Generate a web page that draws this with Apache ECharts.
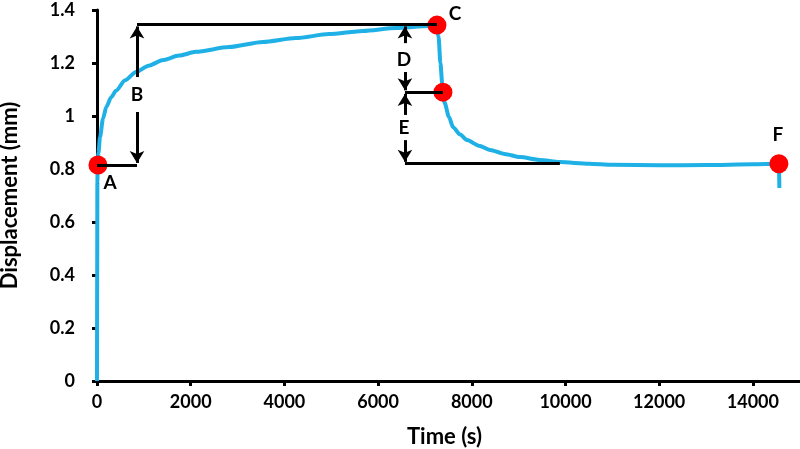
<!DOCTYPE html>
<html>
<head>
<meta charset="utf-8">
<script src="https://cdn.jsdelivr.net/npm/echarts@6/dist/echarts.min.js"></script>
<style>html,body{margin:0;padding:0;background:#fff}#c{width:800px;height:449px}</style>
</head>
<body>
<div id="c"></div>
<script>
// Displacement curve: [time (s), displacement (mm)]
var curveTime = [0, 4, 8, 15, 30, 64, 128, 200, 300, 405, 600, 832, 1100, 1409, 1750, 2113, 2817, 3540, 4247, 4951, 5677, 6381, 7085, 7256, 7290, 7330, 7370, 7384, 7420, 7512, 7600, 7750, 7900, 8150, 8390, 8700, 9030, 9450, 9880, 10500, 11000, 12000, 13000, 14000, 14555, 14565];
var curveDisp = [0, 0.4, 0.75, 0.82, 0.86, 0.92, 0.99, 1.035, 1.07, 1.095, 1.135, 1.166, 1.19, 1.211, 1.228, 1.242, 1.26, 1.279, 1.294, 1.309, 1.321, 1.332, 1.34, 1.343, 1.30, 1.2, 1.12, 1.09, 1.05, 0.996, 0.958, 0.93, 0.909, 0.888, 0.872, 0.857, 0.845, 0.834, 0.826, 0.82, 0.816, 0.814, 0.815, 0.818, 0.82, 0.728];

// Red marker points
var pointTime = [20, 7256, 7384, 14555];
var pointDisp = [0.815, 1.343, 1.09, 0.82];

// Letter labels
var labelText = ['A', 'B', 'C', 'D', 'E', 'F'];
var labelTime = [277, 854, 7640, 6552, 6552, 14533];
var labelDisp = [0.747, 1.08, 1.385, 1.211, 0.955, 0.928];

// Plain guide lines [x1, y1, x2, y2]
var guideLines = [
  [0, 0.815, 854, 0.815],
  [854, 1.345, 7256, 1.345],
  [6573, 1.09, 7384, 1.09],
  [6573, 0.82, 9880, 0.82]
];
// Arrow segments [xFrom, yFrom, xTipTo, yTipTo] (arrowhead at the second end)
var arrowLines = [
  [854, 1.147, 854, 1.338],
  [854, 1.015, 854, 0.823],
  [6573, 1.275, 6573, 1.338],
  [6573, 1.166, 6573, 1.097],
  [6573, 1.004, 6573, 1.083],
  [6573, 0.909, 6573, 0.827]
];

var xTicks = [0, 2000, 4000, 6000, 8000, 10000, 12000, 14000];
var yTicks = [0, 0.2, 0.4, 0.6, 0.8, 1, 1.2, 1.4];

var FONT = 'Lato';
var chart = echarts.init(document.getElementById('c'), null, {renderer: 'canvas'});

function zip(a, b) { return a.map(function (v, i) { return [v, b[i]]; }); }

var option = {
  animation: false,
  backgroundColor: '#fff',
  grid: {left: 97, top: 10, height: 371, width: 749.6, outerBoundsMode: 'none', containLabel: false},
  xAxis: {
    type: 'value', min: 0, max: 16000, interval: 2000,
    axisLine: {lineStyle: {color: '#000', width: 3}},
    axisTick: {show: true, length: 5, lineStyle: {color: '#000', width: 3}},
    splitLine: {show: false},
    axisLabel: {color: '#000', fontFamily: FONT, fontWeight: 'bold', fontSize: 18, margin: 12,
      formatter: function (v) { return String(v); }}
  },
  yAxis: {
    type: 'value', min: 0, max: 1.4, interval: 0.2,
    axisLine: {show: true, lineStyle: {color: '#000', width: 3}},
    axisTick: {show: true, length: 5, lineStyle: {color: '#000', width: 3}},
    splitLine: {show: false},
    axisLabel: {color: '#000', fontFamily: FONT, fontWeight: 'bold', fontSize: 18, margin: 22,
      formatter: function (v) { return String(Math.round(v * 10) / 10); }},
    name: 'Displacement (mm)', nameLocation: 'middle', nameGap: 76,
    nameTextStyle: {color: '#000', fontFamily: FONT, fontWeight: 'bold', fontSize: 22}
  },
  graphic: [{
    type: 'text', left: 407, top: 426,
    style: {text: 'Time (s)', fill: '#000', font: 'bold 22px ' + FONT}
  }],
  series: [
    {
      type: 'line', z: 2, symbol: 'none', silent: true,
      data: [],
      markLine: {
        silent: true, symbol: ['none', 'none'], animation: false,
        lineStyle: {color: '#000', width: 3, type: 'solid', opacity: 1}, label: {show: false},
        emphasis: {disabled: true},
        data: guideLines.map(function (l) { return [{coord: [l[0], l[1]]}, {coord: [l[2], l[3]]}]; })
      }
    },
    {
      type: 'line', z: 2, symbol: 'none', silent: true,
      data: [],
      markLine: {
        silent: true, symbol: ['none', 'arrow'], symbolSize: [11, 12], animation: false,
        lineStyle: {color: '#000', width: 3, type: 'solid', opacity: 1}, label: {show: false},
        emphasis: {disabled: true},
        data: arrowLines.map(function (l) { return [{coord: [l[0], l[1]]}, {coord: [l[2], l[3]]}]; })
      }
    },
    {
      type: 'line', z: 3, symbol: 'none', smooth: 0.25, smoothMonotone: 'x',
      lineStyle: {color: '#1FB0E6', width: 4},
      data: zip(curveTime, curveDisp)
    },
    {
      type: 'scatter', z: 4, symbol: 'circle', symbolSize: 19,
      itemStyle: {color: '#FF0000', opacity: 1},
      data: zip(pointTime, pointDisp)
    },
    {
      type: 'scatter', z: 5, symbolSize: 0,
      itemStyle: {opacity: 1},
      label: {show: true, position: 'inside', color: '#000', fontFamily: FONT, fontWeight: 'bold', fontSize: 19,
        formatter: function (p) { return labelText[p.dataIndex]; }},
      data: zip(labelTime, labelDisp)
    }
  ]
};
chart.setOption(option);
</script>
</body>
</html>
